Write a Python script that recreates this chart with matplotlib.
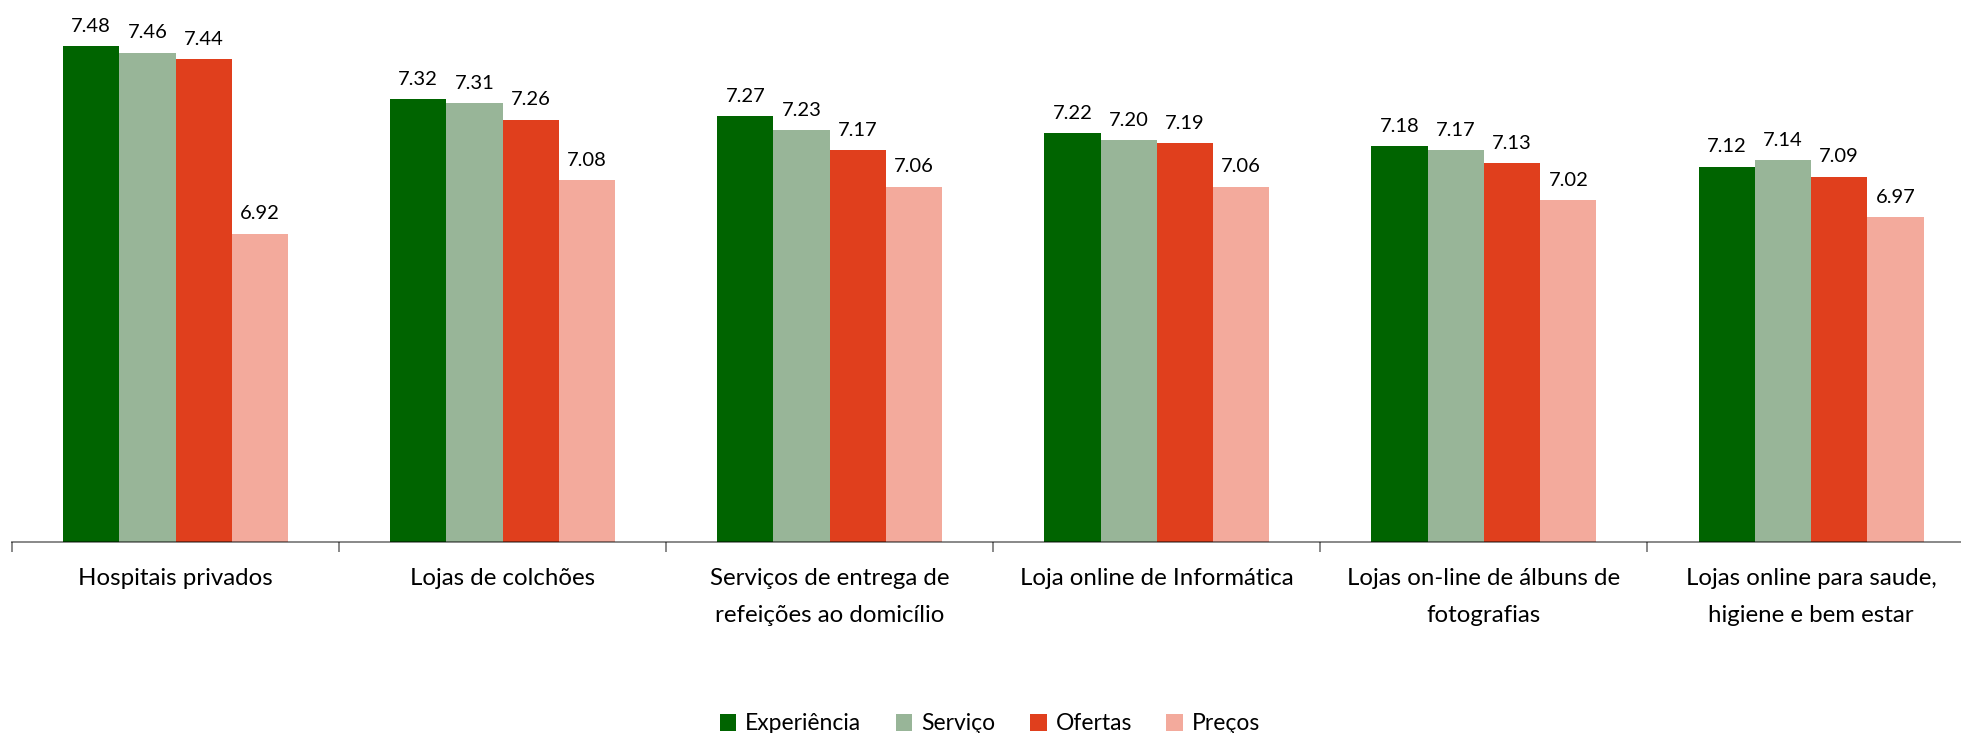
import matplotlib
matplotlib.use("Agg")
import matplotlib.pyplot as plt
import numpy as np

plt.rcParams['font.family'] = ['Lato', 'DejaVu Sans']

categories = [
    "Hospitais privados",
    "Lojas de colchões",
    "Serviços de entrega de\nrefeições ao domicílio",
    "Loja online de Informática",
    "Lojas on-line de álbuns de\nfotografias",
    "Lojas online para saude,\nhigiene e bem estar",
]
series_names = ["Experiência", "Serviço", "Ofertas", "Preços"]
experiencia = [7.48, 7.32, 7.27, 7.22, 7.18, 7.12]
servico = [7.46, 7.31, 7.23, 7.20, 7.17, 7.14]
ofertas = [7.44, 7.26, 7.17, 7.19, 7.13, 7.09]
precos = [6.92, 7.08, 7.06, 7.06, 7.02, 6.97]
colors = ["#006400", "#98B598", "#E03F1D", "#F3AA9C"]

W, H = 1961, 733
fig = plt.figure(figsize=(W / 100, H / 100), dpi=100)
ax = fig.add_axes([12 / W, (H - 541.7) / H, 1962.6 / W, 536 / H])

x = np.arange(len(categories))
width = 0.172
all_series = [experiencia, servico, ofertas, precos]
for i, (name, vals) in enumerate(zip(series_names, all_series)):
    pos = x + (i - 1.5) * width
    ax.bar(pos, np.array(vals) - 6.0, width, bottom=6.0,
           color=colors[i], label=name, linewidth=0)
    for xp, v in zip(pos, vals):
        ax.annotate(f"{v:.2f}", (xp, v), xytext=(0, 8), textcoords="offset points",
                    ha="center", va="bottom", fontsize=14.5)

ax.set_xlim(-0.5, len(categories) - 0.5)
ax.set_ylim(6.0, 7.6)

for s in ["left", "right", "top"]:
    ax.spines[s].set_visible(False)
ax.spines["bottom"].set_color((0, 0, 0, 0.5))
ax.spines["bottom"].set_linewidth(1.3)
ax.set_yticks([])

ax.set_xticks(x)
ax.set_xticklabels(categories, fontsize=17.3, linespacing=1.95)
ax.tick_params(axis="x", which="major", length=0, pad=19)
ax.set_xticks(np.arange(-0.5, len(categories), 1.0), minor=True)
ax.tick_params(axis="x", which="minor", length=7.5, width=1.3, color=(0, 0, 0, 0.5))

fig.legend(loc="center", bbox_to_anchor=(990 / W, 1 - 724 / H), ncol=4, frameon=False,
           fontsize=16.5, handlelength=0.72, handleheight=0.72, handletextpad=0.4,
           columnspacing=1.5)

fig.savefig("out.png", dpi=100)
